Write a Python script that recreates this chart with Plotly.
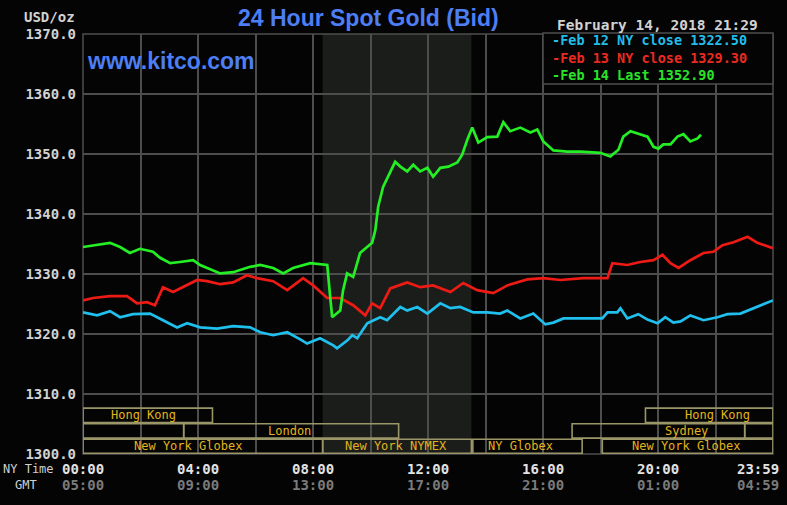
import plotly.graph_objects as go

# ---------------- data (hours after midnight NY time, USD/oz) ----------------
hours_feb12 = [0.00, 0.49, 0.94, 1.29, 1.74, 2.33, 2.78, 3.27, 3.62, 4.07, 4.66, 5.22, 5.81, 6.16,
               6.61, 7.10, 7.55, 7.79, 8.24, 8.70, 8.83, 9.18, 9.36, 9.53, 9.88, 10.33, 10.57, 11.03,
               11.27, 11.62, 11.97, 12.42, 12.77, 13.11, 13.57, 14.05, 14.50, 14.75, 15.20, 15.65,
               16.07, 16.35, 16.70, 17.04, 18.05, 18.23, 18.57, 18.68, 18.92, 19.30, 19.62, 19.97,
               20.24, 20.52, 20.77, 21.11, 21.57, 22.05, 22.40, 22.85, 23.30, 23.65, 23.98]
price_feb12 = [1323.6, 1323.1, 1323.8, 1322.8, 1323.3, 1323.4, 1322.3, 1321.1, 1321.8, 1321.1, 1320.9,
               1321.3, 1321.1, 1320.3, 1319.8, 1320.3, 1319.1, 1318.4, 1319.3, 1318.1, 1317.6, 1318.9,
               1319.8, 1319.3, 1321.8, 1322.8, 1322.3, 1324.5, 1323.9, 1324.5, 1323.4, 1325.1, 1324.3,
               1324.5, 1323.6, 1323.6, 1323.4, 1323.9, 1322.6, 1323.4, 1321.6, 1321.9, 1322.6, 1322.6,
               1322.6, 1323.6, 1323.6, 1324.3, 1322.6, 1323.3, 1322.4, 1321.8, 1322.8, 1321.9, 1322.1,
               1323.1, 1322.3, 1322.8, 1323.3, 1323.4, 1324.3, 1325.0, 1325.6]

hours_feb13 = [0.00, 0.35, 0.94, 1.53, 1.88, 2.23, 2.50, 2.78, 3.13, 3.48, 3.97, 4.31, 4.77, 5.22, 5.70,
               6.05, 6.61, 7.10, 7.65, 8.00, 8.49, 8.94, 9.39, 9.81, 10.05, 10.33, 10.68, 11.27, 11.72,
               12.17, 12.77, 13.22, 13.70, 14.26, 14.75, 15.44, 16.00, 16.59, 17.39, 18.23, 18.40,
               18.92, 19.37, 19.83, 20.14, 20.42, 20.70, 21.11, 21.57, 21.91, 22.23, 22.61, 23.10,
               23.44, 23.98]
price_feb13 = [1325.6, 1326.0, 1326.3, 1326.3, 1325.1, 1325.3, 1324.8, 1327.8, 1327.0, 1327.8, 1329.0,
               1328.8, 1328.3, 1328.6, 1329.8, 1329.3, 1328.8, 1327.3, 1329.3, 1328.1, 1326.0, 1326.0,
               1324.8, 1323.1, 1325.1, 1324.3, 1327.6, 1328.6, 1327.8, 1328.1, 1327.0, 1328.5, 1327.3,
               1326.8, 1328.1, 1329.1, 1329.3, 1329.0, 1329.3, 1329.3, 1331.8, 1331.5, 1332.0, 1332.3,
               1333.2, 1331.8, 1331.0, 1332.3, 1333.5, 1333.7, 1334.8, 1335.3, 1336.2, 1335.2, 1334.3]

hours_feb14 = [0.00, 0.94, 1.29, 1.63, 1.98, 2.43, 2.68, 3.03, 3.37, 3.83, 4.07, 4.42, 4.77, 5.22, 5.81,
               6.16, 6.61, 6.96, 7.30, 7.90, 8.49, 8.56, 8.66, 8.94, 9.04, 9.18, 9.39, 9.63, 9.88, 10.05,
               10.16, 10.26, 10.43, 10.68, 10.85, 11.03, 11.27, 11.48, 11.72, 11.97, 12.17, 12.42,
               12.70, 13.01, 13.18, 13.36, 13.53, 13.74, 14.05, 14.40, 14.61, 14.85, 15.20, 15.55,
               15.79, 16.00, 16.35, 16.83, 17.29, 17.98, 18.33, 18.61, 18.78, 19.03, 19.37, 19.62,
               19.83, 20.00, 20.17, 20.42, 20.66, 20.87, 21.11, 21.36, 21.48]
price_feb14 = [1334.5, 1335.2, 1334.5, 1333.5, 1334.2, 1333.7, 1332.7, 1331.8, 1332.0, 1332.3, 1331.5,
               1330.8, 1330.1, 1330.3, 1331.2, 1331.5, 1331.0, 1330.1, 1331.0, 1331.8, 1331.5, 1327.8,
               1322.8, 1323.9, 1327.3, 1330.1, 1329.5, 1333.5, 1334.5, 1335.2, 1337.3, 1341.2, 1344.5,
               1346.9, 1348.7, 1347.9, 1347.1, 1348.2, 1347.1, 1347.7, 1346.2, 1347.7, 1347.9, 1348.6,
               1349.9, 1352.4, 1354.4, 1351.9, 1352.8, 1352.9, 1355.3, 1353.8, 1354.4, 1353.6, 1354.1,
               1352.1, 1350.6, 1350.4, 1350.4, 1350.2, 1349.6, 1350.7, 1352.9, 1353.8, 1353.3, 1352.9,
               1351.2, 1350.9, 1351.6, 1351.6, 1352.9, 1353.3, 1352.1, 1352.6, 1353.2]

series_names = ["Feb 12 NY close 1322.50", "Feb 13 NY close 1329.30", "Feb 14 Last 1352.90"]

y_ticks = [1300, 1310, 1320, 1330, 1340, 1350, 1360, 1370]
grid_hours = [0, 2, 4, 6, 8, 10, 12, 14, 16, 18, 20, 22]
label_hours = [0, 4, 8, 12, 16, 20, 23.983]
ny_labels = ["00:00", "04:00", "08:00", "12:00", "16:00", "20:00", "23:59"]
gmt_labels = ["05:00", "09:00", "13:00", "17:00", "21:00", "01:00", "04:59"]

comex_open, comex_close = 8.33, 13.5

session_names = ["Hong Kong", "Hong Kong", "", "London", "Sydney", "",
                 "New York Globex", "New York NYMEX", "NY Globex", "New York Globex"]
session_rows = [1, 1, 2, 2, 2, 2, 3, 3, 3, 3]
session_start = [0.0, 19.55, 0.0, 3.5, 17.0, 23.0, 0.0, 8.33, 13.55, 18.05]
session_end = [4.5, 23.983, 3.5, 10.97, 23.0, 23.983, 8.33, 13.5, 17.35, 23.983]
session_label_at = [2.12, 22.05, None, 7.18, 20.97, None, 3.65, 10.89, 15.2, 20.97]

title_text = "24 Hour Spot Gold (Bid)"
stamp_text = "February 14, 2018 21:29"

# ---------------- styling ----------------
W, H = 787, 505
L, R, T, B = 83, 14, 34, 51
PW, PH = W - L - R, H - T - B
BG = "#040404"
GRID = "#4d4d4d"
MONO = "DejaVu Sans Mono"
line_colors = ["#1fc0ee", "#ee1a14", "#24ee24"]
legend_colors = ["#22bde9", "#ea2a20", "#2ae22a"]
BOX = "#9a9668"
GOLD = "#e2b41e"


def px_x(px):
    return (px - L) / PW


def px_y(py):
    return (H - B - py) / PH


fig = go.Figure()
for hrs, prs, col, name in zip([hours_feb12, hours_feb13, hours_feb14],
                               [price_feb12, price_feb13, price_feb14],
                               line_colors, series_names):
    fig.add_trace(go.Scatter(x=hrs, y=prs, mode="lines", name=name,
                             line=dict(color=col, width=2.7), showlegend=False,
                             hoverinfo="skip"))

shapes = []
# COMEX shaded session
shapes.append(dict(type="rect", xref="x", yref="paper", x0=comex_open, x1=comex_close,
                   y0=0, y1=1, fillcolor="#1b1d1b", line=dict(width=0), layer="below"))
# plot frame
shapes.append(dict(type="rect", xref="paper", yref="paper", x0=0, x1=1, y0=0, y1=1,
                   line=dict(color=GRID, width=1.5), fillcolor="rgba(0,0,0,0)", layer="below"))

row_bounds = {3: (1300.1, 1302.45), 2: (1302.65, 1305.05), 1: (1305.25, 1307.65)}
annotations = []
for name, row, s, e, lab in zip(session_names, session_rows, session_start, session_end,
                                session_label_at):
    y0, y1 = row_bounds[row]
    shapes.append(dict(type="rect", xref="x", yref="y", x0=s, x1=e, y0=y0, y1=y1,
                       line=dict(color=BOX, width=1.6), fillcolor="rgba(0,0,0,0)",
                       layer="above"))
    if name:
        annotations.append(dict(xref="x", yref="y", x=lab, y=(y0 + y1) / 2, text=name,
                                showarrow=False, xanchor="center", yanchor="middle",
                                font=dict(family=MONO, size=12, color=GOLD)))

# legend box
shapes.append(dict(type="rect", xref="paper", yref="paper", x0=px_x(543), x1=px_x(773),
                   y0=px_y(84), y1=px_y(33), fillcolor=BG, line=dict(color=GRID, width=1.5),
                   layer="above"))
legend_text = "<br>".join(
    "<span style='color:%s'>-%s</span>" % (col, name)
    for name, col in zip(series_names, legend_colors))
annotations.append(dict(xref="paper", yref="paper", x=px_x(551), y=px_y(57.5),
                        text=legend_text, showarrow=False, xanchor="left", yanchor="middle",
                        align="left", borderpad=0,
                        font=dict(family=MONO, size=13.5, color=legend_colors[0], weight="bold")))

# title, stamp, units, watermark
annotations.append(dict(xref="paper", yref="paper", x=px_x(368), y=px_y(18), text=title_text,
                        showarrow=False, xanchor="center", yanchor="middle",
                        font=dict(family="Liberation Sans", size=23, color="#4d7ef4", weight="bold")))
annotations.append(dict(xref="paper", yref="paper", x=px_x(760), y=px_y(25), text=stamp_text,
                        showarrow=False, xanchor="right", yanchor="middle",
                        font=dict(family=MONO, size=14.5, color="#d2d2d2", weight="bold")))
annotations.append(dict(xref="paper", yref="paper", x=px_x(77), y=px_y(17), text="USD/oz",
                        showarrow=False, xanchor="right", yanchor="middle",
                        font=dict(family=MONO, size=14, color="#d2d2d2", weight="bold")))
annotations.append(dict(xref="paper", yref="paper", x=px_x(85), y=px_y(61), text="www.kitco.com",
                        showarrow=False, xanchor="left", yanchor="middle",
                        font=dict(family="Liberation Sans", size=23, color="#4d7ef4", weight="bold")))

# x-axis time labels (NY and GMT)
for hr, ny, gmt in zip(label_hours, ny_labels, gmt_labels):
    last = hr == label_hours[-1]
    common = dict(xref="x", yref="paper", x=hr, y=0, showarrow=False,
                  xanchor="right" if last else "center", yanchor="middle",
                  xshift=8 if last else 0)
    annotations.append(dict(common, text=ny, yshift=-14.5,
                            font=dict(family=MONO, size=14, color="#e2e2e2", weight="bold")))
    annotations.append(dict(common, text=gmt, yshift=-31,
                            font=dict(family=MONO, size=14, color="#7a7a7a", weight="bold")))
annotations.append(dict(xref="paper", yref="paper", x=px_x(29), y=0, yshift=-14.5, text="NY Time",
                        showarrow=False, xanchor="center", yanchor="middle",
                        font=dict(family=MONO, size=12, color="#d0d0d0")))
annotations.append(dict(xref="paper", yref="paper", x=px_x(26), y=0, yshift=-31, text="GMT",
                        showarrow=False, xanchor="center", yanchor="middle",
                        font=dict(family=MONO, size=12, color="#d0d0d0")))

fig.update_layout(
    width=W, height=H, margin=dict(l=L, r=R, t=T, b=B),
    paper_bgcolor=BG, plot_bgcolor=BG,
    shapes=shapes, annotations=annotations, showlegend=False,
    xaxis=dict(range=[0, 23.983], tickvals=grid_hours, showticklabels=False, showgrid=True,
               gridcolor=GRID, gridwidth=1.5, zeroline=False, showline=False, ticks=""),
    yaxis=dict(range=[1300, 1370], tickvals=y_ticks, tickformat=".1f", showgrid=True,
               gridcolor=GRID, gridwidth=1.5, zeroline=False, showline=False, ticks="",
               ticklabelstandoff=6,
               tickfont=dict(family=MONO, size=14, color="#d2d2d2", weight="bold")),
)

fig.write_html("out.html")
